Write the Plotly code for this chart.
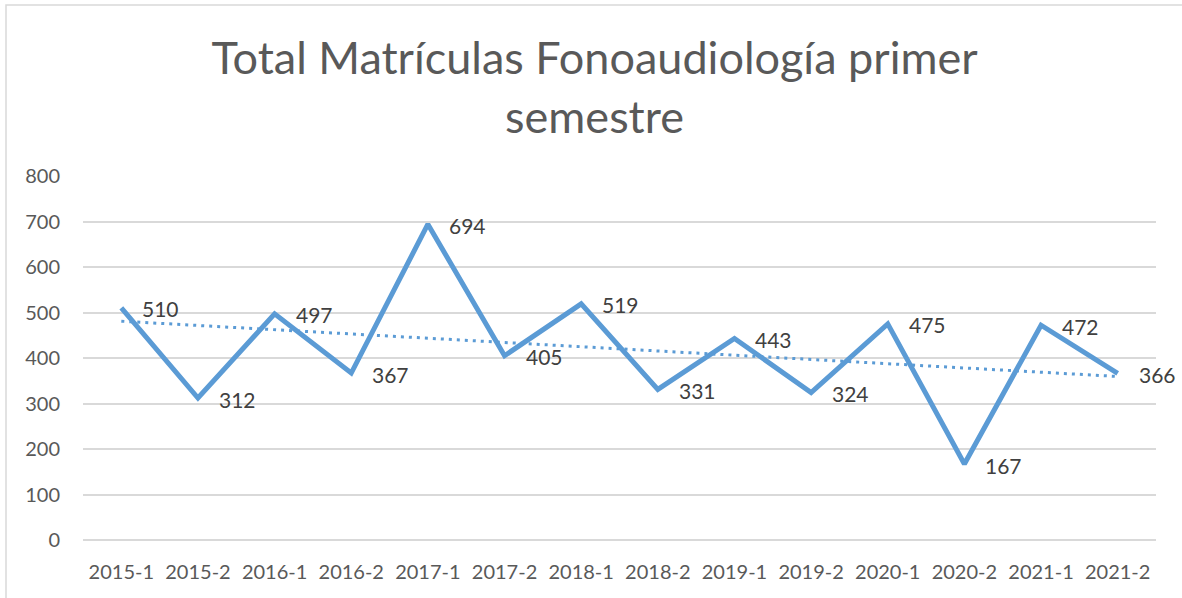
import numpy as np
import plotly.graph_objects as go

# Enrolment totals per semester
semesters = ["2015-1", "2015-2", "2016-1", "2016-2", "2017-1", "2017-2", "2018-1",
             "2018-2", "2019-1", "2019-2", "2020-1", "2020-2", "2021-1", "2021-2"]
matriculas = [510, 312, 497, 367, 694, 405, 519, 331, 443, 324, 475, 167, 472, 366]
y_ticks = [0, 100, 200, 300, 400, 500, 600, 700, 800]

title_text = "Total Matrículas Fonoaudiología primer<br>semestre"

BLUE = "#5B9BD5"
GRID = "#D9D9D9"
TEXT = "#595959"
FONT = "Lato, Open Sans, sans-serif"

W, H = 1182, 598
ML, MR, MT, MB = 83, 26, 176, 58

# Linear trend fitted over the semester index
idx = np.arange(len(matriculas))
slope, intercept = np.polyfit(idx, matriculas, 1)
trend = slope * idx + intercept

fig = go.Figure()

fig.add_trace(go.Scatter(
    x=semesters, y=trend, mode="lines",
    line=dict(color=BLUE, width=3, dash="3px,5px"),
    hoverinfo="skip", showlegend=False,
))

fig.add_trace(go.Scatter(
    x=semesters, y=matriculas, mode="lines",
    line=dict(color=BLUE, width=5),
    showlegend=False,
))

# Value labels to the right of each point
for s, v in zip(semesters, matriculas):
    fig.add_annotation(
        x=s, y=v, text=str(v), showarrow=False,
        xanchor="left", yanchor="middle", xshift=19, yshift=-1,
        font=dict(family=FONT, size=21, color="#404040"),
    )

# Light chart frame (left and top edges visible)
pw = W - ML - MR
ph = H - MT - MB
fig.add_shape(
    type="rect", xref="paper", yref="paper",
    x0=(6 - ML) / pw, x1=(W + 10 - ML) / pw,
    y0=(H - MB - (H + 10)) / ph, y1=(H - MB - 5) / ph,
    line=dict(color="#D9D9D9", width=1.5), fillcolor="rgba(0,0,0,0)",
    layer="below",
)

fig.update_layout(
    width=W, height=H,
    margin=dict(l=ML, r=MR, t=MT, b=MB),
    paper_bgcolor="white", plot_bgcolor="white",
    title=dict(
        text=title_text, x=0.503, xanchor="center",
        y=1 - 74 / H, yanchor="middle", yref="container",
        font=dict(family=FONT, size=45, color=TEXT),
    ),
    font=dict(family=FONT, color=TEXT),
    xaxis=dict(
        type="category", range=[-0.5, len(semesters) - 0.5],
        showgrid=False, showline=False, zeroline=False, ticks="",
        tickfont=dict(family=FONT, size=20, color=TEXT),
        ticklabelstandoff=18,
    ),
    yaxis=dict(
        range=[0, 800], tickvals=y_ticks,
        showgrid=True, gridcolor=GRID, gridwidth=1.5,
        zeroline=True, zerolinecolor=GRID, zerolinewidth=1.5,
        showline=False, ticks="",
        tickfont=dict(family=FONT, size=20, color=TEXT),
        ticklabelstandoff=22,
    ),
)

fig.write_html("out.html")
